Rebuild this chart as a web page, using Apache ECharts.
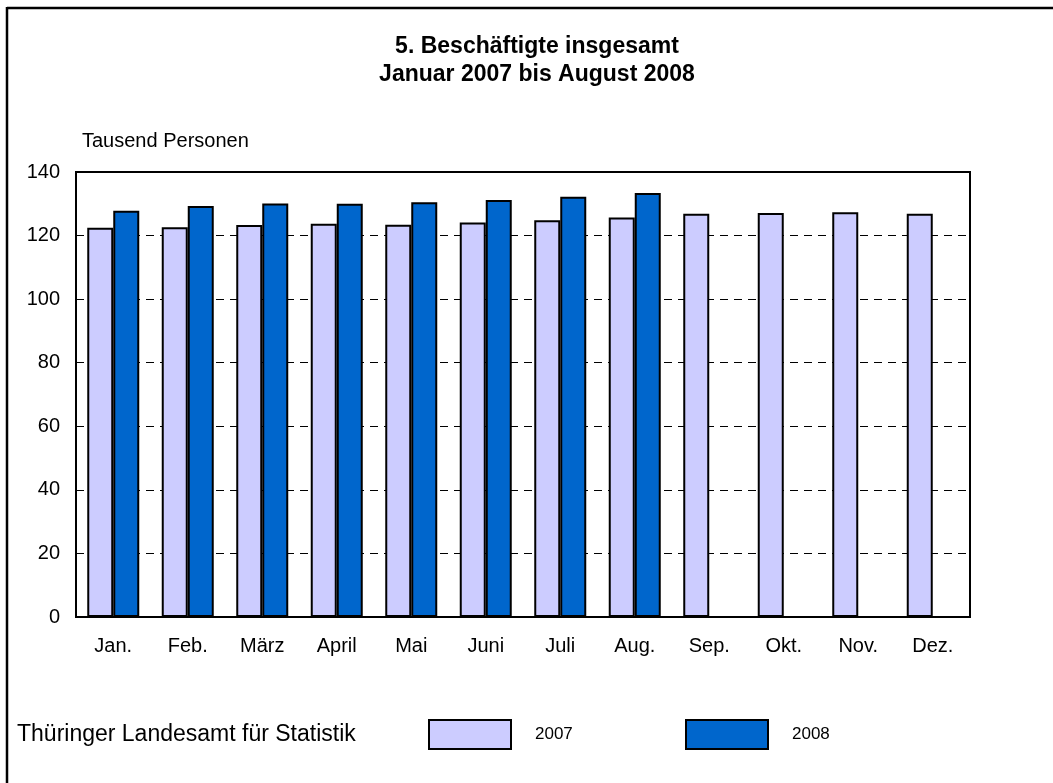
<!DOCTYPE html>
<html>
<head>
<meta charset="utf-8">
<script src="https://cdn.jsdelivr.net/npm/echarts@6/dist/echarts.min.js"></script>
<style>
  html, body { margin: 0; padding: 0; background: #fff; }
  #chart { width: 1053px; height: 783px; }
</style>
</head>
<body>
<div id="chart"></div>
<script>
// months on the x axis
const months = ['Jan.', 'Feb.', 'März', 'April', 'Mai', 'Juni', 'Juli', 'Aug.', 'Sep.', 'Okt.', 'Nov.', 'Dez.'];
// Beschäftigte in Tausend Personen
const values2007 = [122.5, 122.6, 123.3, 123.7, 123.4, 124.1, 124.8, 125.7, 126.9, 127.1, 127.3, 126.9];
const values2008 = [127.8, 129.3, 130.1, 130.0, 130.5, 131.2, 132.2, 133.4, null, null, null, null];
const seriesNames = ['2007', '2008'];
const yTicks = [0, 20, 40, 60, 80, 100, 120, 140];

const font = 'Arial, "Liberation Sans", sans-serif';
const chart = echarts.init(document.getElementById('chart'));

const barStyle = (color) => ({
  color: color,
  borderColor: '#000',
  borderWidth: 2
});

// one legend box per year, placed like in the original
const legendFor = (name, left) => ({
  left: left, top: 719, padding: 0,
  itemWidth: 82, itemHeight: 29, itemGap: 0,
  icon: 'rect', selectedMode: false,
  textStyle: { fontSize: 17, color: '#000', fontFamily: font, padding: [0, 0, 0, 19] },
  data: [name]
});

const option = {
  animation: false,
  backgroundColor: '#fff',
  textStyle: { fontFamily: font, color: '#000' },
  grid: {
    left: 76, right: 83, top: 172, bottom: 166,
    show: true, borderColor: '#000', borderWidth: 2
  },
  legend: [legendFor(seriesNames[0], 428), legendFor(seriesNames[1], 685)],
  xAxis: {
    type: 'category',
    data: months,
    axisLine: { lineStyle: { color: '#000', width: 2 } },
    axisTick: { show: false },
    axisLabel: { fontSize: 20, color: '#000', margin: 19 }
  },
  yAxis: {
    type: 'value',
    min: yTicks[0],
    max: yTicks[yTicks.length - 1],
    interval: 20,
    axisLine: { show: true, lineStyle: { color: '#000', width: 2 } },
    axisTick: { show: false },
    axisLabel: { fontSize: 20, color: '#000', margin: 16 },
    splitLine: { lineStyle: { color: '#000', width: 1, type: [8, 6] } }
  },
  series: [
    {
      name: seriesNames[0], type: 'bar', data: values2007,
      barWidth: 26, barGap: '0%',
      itemStyle: barStyle('#ccccff')
    },
    {
      name: seriesNames[1], type: 'bar', data: values2008,
      barWidth: 26, barGap: '0%',
      itemStyle: barStyle('#0066cc')
    }
  ],
  graphic: [
    // outer frame (only top and left edges visible)
    { type: 'line', shape: { x1: 7, y1: 8, x2: 1053, y2: 8 }, style: { stroke: '#000', lineWidth: 2.5 } },
    { type: 'line', shape: { x1: 7, y1: 7, x2: 7, y2: 783 }, style: { stroke: '#000', lineWidth: 2.5 } },
    {
      type: 'text', x: 537, y: 47,
      style: { text: '5. Beschäftigte insgesamt', font: 'bold 23px ' + font, fill: '#000', textAlign: 'center', textVerticalAlign: 'middle' }
    },
    {
      type: 'text', x: 537, y: 75,
      style: { text: 'Januar 2007 bis August 2008', font: 'bold 23px ' + font, fill: '#000', textAlign: 'center', textVerticalAlign: 'middle' }
    },
    {
      type: 'text', x: 82, y: 141,
      style: { text: 'Tausend Personen', font: '20px ' + font, fill: '#000', textVerticalAlign: 'middle' }
    },
    {
      type: 'text', x: 17, y: 735,
      style: { text: 'Thüringer Landesamt für Statistik', font: '23px ' + font, fill: '#000', textVerticalAlign: 'middle' }
    }
  ]
};

chart.setOption(option);
</script>
</body>
</html>
